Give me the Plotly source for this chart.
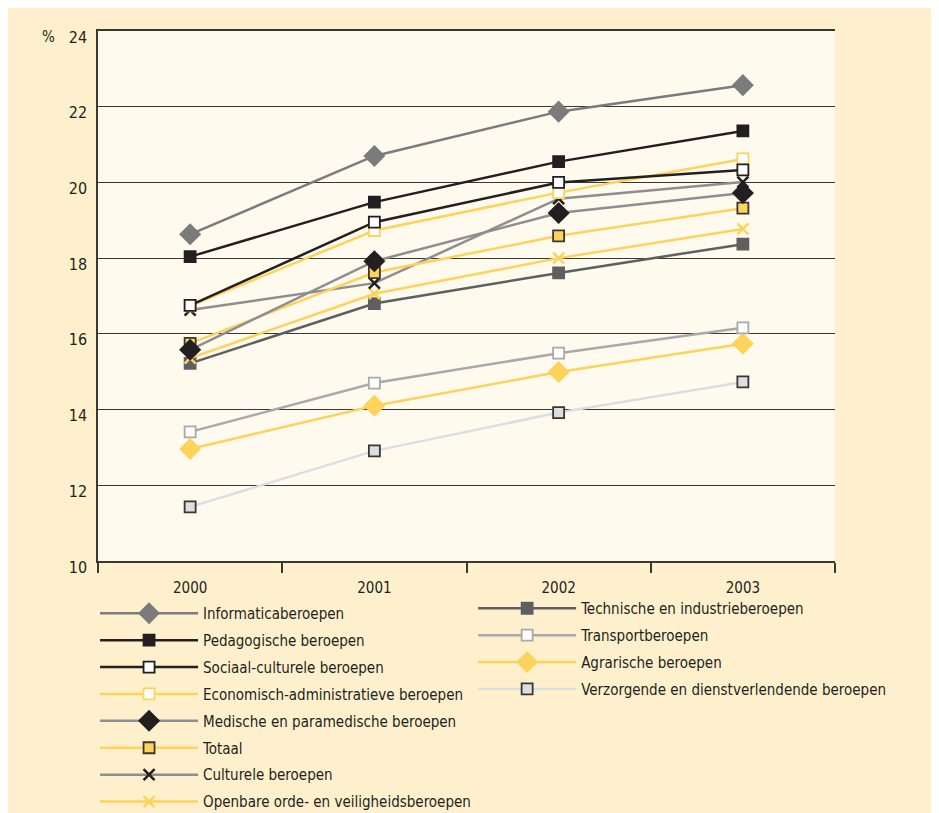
import plotly.graph_objects as go

years = ["2000", "2001", "2002", "2003"]

informatica = [18.63, 20.70, 21.87, 22.57]
pedagogische = [18.04, 19.48, 20.55, 21.36]
sociaal_culturele = [16.75, 18.95, 20.0, 20.33]
economisch_admin = [16.74, 18.73, 19.73, 20.62]
medische = [15.58, 17.92, 19.19, 19.72]
totaal = [15.75, 17.62, 18.59, 19.32]
culturele = [16.63, 17.34, 19.57, 20.01]
openbare_orde = [15.36, 17.06, 18.0, 18.77]
technische = [15.22, 16.80, 17.61, 18.37]
transport = [13.41, 14.70, 15.49, 16.16]
agrarische = [12.96, 14.10, 14.99, 15.74]
verzorgende = [11.43, 12.91, 13.92, 14.73]

y_ticks = [10, 12, 14, 16, 18, 20, 22, 24]

YEL = "#fdd35c"
BLK = "#231f20"
GRY = "#7b7b7d"
MGRY = "#8e8e90"
DGRY = "#5f5f61"
LGRY = "#a9a9ab"
VLGRY = "#dddee2"

series = [
    ("Informaticaberoepen", informatica, GRY, "diamond", GRY, GRY, 15, "legend"),
    ("Pedagogische beroepen", pedagogische, BLK, "square", BLK, BLK, 11, "legend"),
    ("Sociaal-culturele beroepen", sociaal_culturele, BLK, "square", "white", BLK, 11, "legend"),
    ("Economisch-administratieve beroepen", economisch_admin, YEL, "square", "white", YEL, 11, "legend"),
    ("Medische en paramedische beroepen", medische, MGRY, "diamond", BLK, BLK, 15, "legend"),
    ("Totaal", totaal, YEL, "square", YEL, "#3a3630", 11, "legend"),
    ("Culturele beroepen", culturele, MGRY, "x-thin", BLK, BLK, 11, "legend"),
    ("Openbare orde- en veiligheidsberoepen", openbare_orde, YEL, "x-thin", YEL, YEL, 11, "legend"),
    ("Technische en industrieberoepen", technische, DGRY, "square", DGRY, DGRY, 11, "legend2"),
    ("Transportberoepen", transport, LGRY, "square", "white", LGRY, 11, "legend2"),
    ("Agrarische beroepen", agrarische, YEL, "diamond", YEL, YEL, 15, "legend2"),
    ("Verzorgende en dienstverlendende beroepen", verzorgende, VLGRY, "square", VLGRY, "#3a3630", 11, "legend2"),
]

fig = go.Figure()
for rank, (name, vals, lc, sym, fc, oc, sz, leg) in enumerate(series):
    is_x = sym == "x-thin"
    fig.add_trace(go.Scatter(
        x=years, y=vals, name=name, mode="lines+markers",
        line=dict(color=lc, width=2.5),
        marker=dict(symbol=sym, size=sz, color=fc,
                    line=dict(color=fc if is_x else oc, width=2.5 if is_x else 1.8)),
        legend=leg, legendgroup=name, legendrank=rank + 1,
    ))

# first series drawn on top
fig.data = tuple(reversed(fig.data))

FONT = "Liberation Sans Narrow, DejaVu Sans Condensed, Arial Narrow, sans-serif"
W, H = 931, 805
L, R, T, B = 90, 104, 23, 252
PW, PH = W - L - R, H - T - B

fig.update_layout(
    width=W, height=H,
    margin=dict(l=L, r=R, t=T, b=B, autoexpand=False),
    paper_bgcolor="#fef0cc",
    plot_bgcolor="#fefaed",
    font=dict(family=FONT, size=15, color=BLK),
    showlegend=True,
    legend=dict(x=-0.004, y=-0.0679, xanchor="left", yanchor="top",
                traceorder="grouped", tracegroupgap=4.4, itemwidth=98,
                bgcolor="rgba(0,0,0,0)", font=dict(size=15)),
    legend2=dict(x=0.509, y=-0.0585, xanchor="left", yanchor="top",
                 traceorder="grouped", tracegroupgap=4.4, itemwidth=98,
                 bgcolor="rgba(0,0,0,0)", font=dict(size=15)),
    annotations=[
        dict(text="%", xref="paper", yref="paper", x=(40 - L) / PW, y=1.0,
             xanchor="center", yanchor="middle", showarrow=False, yshift=-6,
             font=dict(size=15, color=BLK)),
    ],
)

fig.update_xaxes(
    type="category", range=[-0.5, 3.5],
    showline=True, mirror=True, linecolor="#3a3833", linewidth=2,
    ticks="outside", tickson="boundaries", ticklen=10, tickcolor="#3a3833", tickwidth=1.5,
    ticklabelstandoff=12,
    showgrid=False, tickfont=dict(size=15), fixedrange=True,
)
fig.update_yaxes(
    range=[10, 24], tickvals=y_ticks, showline=True, linecolor="#3a3833", linewidth=1.5,
    showgrid=True, gridcolor="#3a3833", gridwidth=1.3, ticks="", ticklabelstandoff=6,
    ticklabelshift=6,
    zeroline=False, tickfont=dict(size=16),
)

fig.write_html("out.html")
